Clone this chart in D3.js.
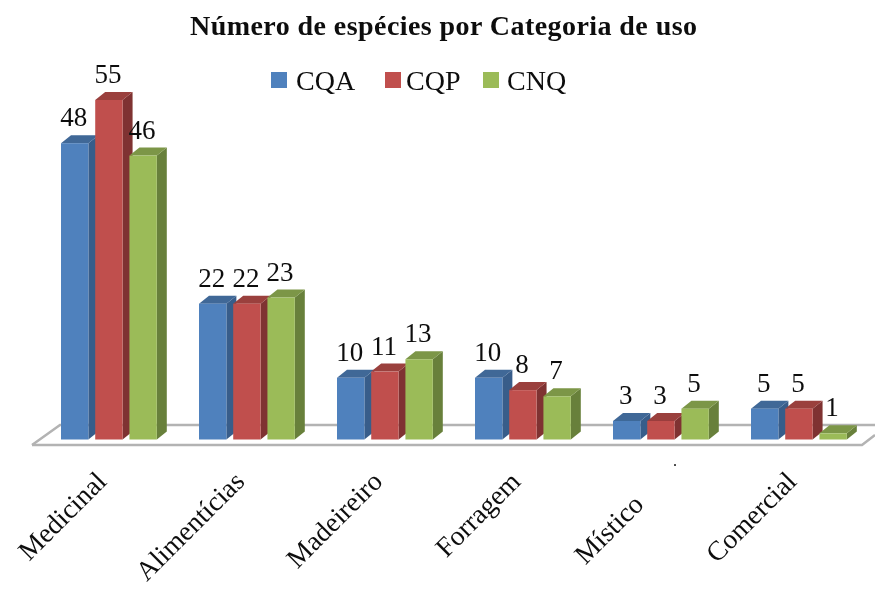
<!DOCTYPE html>
<html>
<head>
<meta charset="utf-8">
<script src="https://cdnjs.cloudflare.com/ajax/libs/d3/7.8.5/d3.min.js"></script>
<style>
    html, body { margin: 0; padding: 0; background: #fff; }
    text { font-family: "Liberation Serif", serif; fill: #111; }
</style>
</head>
<body>
<div id="chart"></div>
<script>
var categories = ["Medicinal", "Alimentícias", "Madeireiro", "Forragem", "Místico", "Comercial"];
var seriesNames = ["CQA", "CQP", "CNQ"];
var cqa = [48, 22, 10, 10, 3, 5];
var cqp = [55, 22, 11, 8, 3, 5];
var cnq = [46, 23, 13, 7, 5, 1];
var seriesValues = [cqa, cqp, cnq];

var front = ["#4f81bd", "#c0504d", "#9bbb59"];
var side = ["#385d8a", "#7f3230", "#68803a"];
var top3d = ["#3f6797", "#9a3f3d", "#7c9647"];

var width = 875, height = 589;
var depthX = 10, depthY = 8;

var svg = d3.select("#chart").append("svg")
    .attr("width", width)
    .attr("height", height);

// the reference is a soft scan, so everything gets a very light blur
svg.append("defs").append("filter")
    .attr("id", "soft")
    .append("feGaussianBlur").attr("stdDeviation", 0.45);
var root = svg.append("g").attr("filter", "url(#soft)");

var x0 = d3.scaleBand().domain(categories).range([41, 869]);
var x1 = d3.scaleBand().domain(seriesNames).range([20, 115.8]).paddingInner(0.2).paddingOuter(0);
var y = d3.scaleLinear().domain([0, 55]).range([439.5, 100]);

// floor of the 3d chart
var floorLine = d3.line();
root.append("path")
    .attr("d", floorLine([[32, 445], [862, 445], [875, 435]]))
    .attr("fill", "none").attr("stroke", "#b3b3b3").attr("stroke-width", 2.5);
root.append("path")
    .attr("d", floorLine([[32, 445], [60, 425], [875, 425]]))
    .attr("fill", "none").attr("stroke", "#b3b3b3").attr("stroke-width", 2.5);

// bars, group by group so the overlaps come out right
categories.forEach(function(cat, c) {
    seriesNames.forEach(function(name, s) {
        var value = seriesValues[s][c];
        var bx = x0(cat) + x1(name);
        var bw = x1.bandwidth();
        var by = y(value);
        var b0 = y(0);
        var g = root.append("g");

        g.append("polygon")
            .attr("points", [[bx + bw, by], [bx + bw + depthX, by - depthY], [bx + bw + depthX, b0 - depthY], [bx + bw, b0]].join(" "))
            .attr("fill", side[s]);
        g.append("polygon")
            .attr("points", [[bx, by], [bx + depthX, by - depthY], [bx + bw + depthX, by - depthY], [bx + bw, by]].join(" "))
            .attr("fill", top3d[s]);
        g.append("rect")
            .attr("x", bx).attr("y", by)
            .attr("width", bw).attr("height", b0 - by)
            .attr("fill", front[s]);
    });
});

// value labels on top of everything
categories.forEach(function(cat, c) {
    seriesNames.forEach(function(name, s) {
        var value = seriesValues[s][c];
        root.append("text")
            .attr("x", x0(cat) + x1(name) + x1.bandwidth() / 2 - 1)
            .attr("y", y(value) - 17)
            .attr("text-anchor", "middle")
            .style("font-size", "27px")
            .text(value);
    });
});

// category labels, Místico sits lower and further left in the original
categories.forEach(function(cat) {
    var lx = x0(cat) + 67;
    var ly = 483;
    if (cat == "Místico") {
        lx = lx - 15;
        ly = ly + 23;
    }
    root.append("text")
        .attr("transform", "translate(" + lx + "," + ly + ") rotate(-45)")
        .attr("text-anchor", "end")
        .style("font-size", "27.5px")
        .text(cat);
});

// stray mark in the scan, under Místico
root.append("text")
    .attr("x", 673).attr("y", 466)
    .style("font-size", "16px")
    .text(".");

// title
root.append("text")
    .attr("x", 443.5).attr("y", 35)
    .attr("text-anchor", "middle")
    .attr("textLength", 507)
    .attr("lengthAdjust", "spacing")
    .style("font-size", "28px")
    .style("font-weight", "bold")
    .text("Número de espécies por Categoria de uso");

// legend
var legendX = [271, 385, 483];
var legendTextX = [296, 406, 507];
seriesNames.forEach(function(name, s) {
    root.append("rect")
        .attr("x", legendX[s]).attr("y", 72)
        .attr("width", 16).attr("height", 16)
        .attr("fill", front[s]);
    root.append("text")
        .attr("x", legendTextX[s]).attr("y", 90)
        .style("font-size", "28px")
        .text(name);
});
</script>
</body>
</html>
